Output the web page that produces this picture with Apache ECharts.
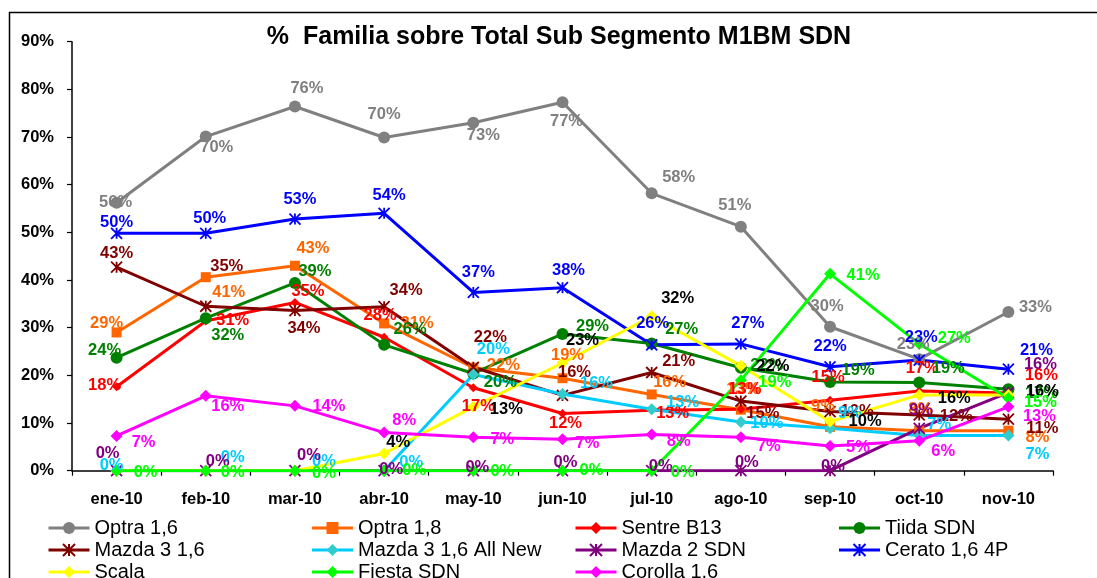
<!DOCTYPE html>
<html><head><meta charset="utf-8">
<script src="https://cdn.jsdelivr.net/npm/echarts@6/dist/echarts.min.js"></script>
<style>html,body{margin:0;padding:0;background:#fff}#c{width:1097px;height:578px}</style>
</head><body><div id="c"></div>
<script>
var categories = ['ene-10','feb-10','mar-10','abr-10','may-10','jun-10','jul-10','ago-10','sep-10','oct-10','nov-10'];
var yTicks = [0,10,20,30,40,50,60,70,80,90];

var optra16   = [56.2, 70.1, 76.4, 69.9, 73.0, 77.3, 58.2, 51.2, 30.2, 23.4, 33.3];
var optra18   = [29.0, 40.6, 43.0, 30.9, 21.6, 19.4, 16.0, 12.8, 9.2, 8.4, 8.4];
var sentre    = [17.6, 31.4, 35.3, 28.0, 17.4, 12.0, 12.7, 12.9, 14.8, 16.7, 16.3];
var tiida     = [23.7, 32.0, 39.4, 26.4, 20.4, 28.7, 26.7, 21.6, 18.6, 18.5, 17.1];
var mazda316  = [42.7, 34.5, 33.6, 34.4, 21.7, 15.8, 20.6, 14.6, 12.4, 11.7, 10.8];
var mazda316n = [0, 0, 0, 0, 20.2, 16.1, 12.9, 10.2, 8.9, 7.4, 7.4];
var mazda2    = [0, 0, 0, 0, 0, 0, 0, 0, 0, 8.9, 16.4];
var cerato    = [49.8, 49.8, 52.8, 54.0, 37.4, 38.4, 26.4, 26.6, 21.8, 23.2, 21.3];
var scala     = [0, 0, 0, 3.6, 13.4, 22.6, 32.4, 22.0, 10.3, 15.9, 15.9];
var fiesta    = [0, 0, 0, 0, 0, 0, 0, 19.0, 41.3, 26.6, 15.2];
var corolla   = [7.3, 15.7, 13.6, 8.0, 7.0, 6.6, 7.6, 7.0, 5.2, 6.3, 13.4];

// label placement (pixel offsets from each point)
var L = {
 optra16: [[-1,0],[11,11],[12,-18],[0,-23],[10,13],[4,19],[27,-16],[-6,-21],[-3,-20],[-6,-15],[27,-5]],
 optra18: [[-10,-9],[23,15],[18,-17],[33,0],[30,-2],[5,-23],[18,-12],[2,-20],[-7,-20],[1,-21],[29,7]],
 sentre: [[-12,-1],[27,-1],[13,-11],[-4,-22],[5,19],[3,10],[21,3],[4,-20],[-2,-23],[3,-23],[33,-18]],
 tiida: [[-12,-7],[22,17],[20,-11],[26,-15],[27,9],[30,-7],[30,-14],[26,-2],[28,-12],[29,-14],[33,4]],
 mazda316: [[0,-14],[21,-40],[9,18],[22,-16],[17,-30],[12,-23],[27,-11],[22,12],[27,0],[37,2],[34,9]],
 mazda316n: [[-5,-5],[27,-13],[29,-9],[27,-8],[20,-25],[34,-11],[31,-7],[26,1],[20,-15],[20,-11],[29,19]],
 mazda2: [[-9,-17],[12,-9],[14,-15],[7,-1],[4,-3],[3,-8],[9,-4],[6,-8],[3,-4],[2,-18],[32,-28]],
 cerato: [[0,-11],[4,-15],[5,-20],[5,-18],[5,-20],[6,-17],[1,-21],[7,-20],[0,-20],[2,-23],[28,-19]],
 scala: [null,null,null,[14,-11],[33,3],[20,-23],[26,-18],[32,1],[35,0],[35,4],[34,-3]],
 fiesta: [[29,2],[27,2],[29,3],[30,0],[29,1],[29,0],[31,2],[34,2],[33,2],[35,-5],[32,4]],
 corolla: [[27,7],[22,11],[34,1],[20,-12],[29,2],[25,4],[27,7],[28,9],[28,2],[24,11],[31,10]]
};

var STAR = 'path://M0,0L10,10M10,0L0,10M5,0L5,10';
var FONT = 'Liberation Sans, Arial, sans-serif';

var defs = [
 {name:'Optra 1,6', d:optra16, k:'optra16', c:'#808080', sym:'circle', size:12},
 {name:'Optra 1,8', d:optra18, k:'optra18', c:'#FF6600', sym:'rect', size:10},
 {name:'Sentre B13', d:sentre, k:'sentre', c:'#FF0000', sym:'diamond', size:9},
 {name:'Tiida SDN', d:tiida, k:'tiida', c:'#008000', sym:'circle', size:12},
 {name:'Mazda 3 1,6', d:mazda316, k:'mazda316', c:'#800000', sym:STAR, size:11, star:true},
 {name:'Mazda 3 1,6 All New', d:mazda316n, k:'mazda316n', c:'#00CCFF', mc:'#33CCCC', sym:'diamond', size:12},
 {name:'Mazda 2 SDN', d:mazda2, k:'mazda2', c:'#800080', sym:STAR, size:11, star:true},
 {name:'Cerato 1,6 4P', d:cerato, k:'cerato', c:'#0000FF', sym:STAR, size:11, star:true},
 {name:'Scala', d:scala, k:'scala', c:'#FFFF00', lc:'#000000', sym:'diamond', size:12},
 {name:'Fiesta SDN', d:fiesta, k:'fiesta', c:'#00FF00', sym:'diamond', size:12},
 {name:'Corolla 1,6', d:corolla, k:'corolla', c:'#FF00FF', sym:'diamond', size:12}
];

var series = defs.map(function(s){
  var data = s.d.map(function(v,i){
    var o = L[s.k][i];
    if (!o) return {value:v, label:{show:false}};
    return {value:v, label:{offset:o}};
  });
  var mc = s.mc || s.c;
  return {
    type:'line', name:s.name, data:data,
    symbol:s.sym, symbolSize:s.size, showAllSymbol:true,
    lineStyle:{color:s.c, width:3},
    itemStyle: s.star ? {color:mc, borderColor:mc, borderWidth:1.8} : {color:mc, borderWidth:0},
    label:{show:true, position:'inside', color:s.lc || s.c, fontFamily:FONT, fontWeight:'bold', fontSize:16.5,
      formatter:function(p){return Math.round(p.value)+'%';}},
    emphasis:{disabled:true}
  };
});

var chart = echarts.init(document.getElementById('c'), null, {renderer:'canvas'});
chart.setOption({
  animation:false,
  backgroundColor:'#ffffff',
  textStyle:{fontFamily:FONT},
  graphic:[
    {type:'rect', left:7, top:10, shape:{width:1300, height:800}, style:{fill:'none', stroke:'#000', lineWidth:1.5}, silent:true, z:-1},
    {type:'text', x:559, y:37, style:{text:'%  Familia sobre Total Sub Segmento M1BM SDN', font:'bold 25px '+FONT, fill:'#000', textAlign:'center', textVerticalAlign:'middle'}, silent:true}
  ],
  grid:{left:72, right:44, top:41.7, bottom:107.3, containLabel:false},
  xAxis:{type:'category', data:categories, boundaryGap:true,
    axisLine:{lineStyle:{color:'#000', width:1.5}},
    axisTick:{show:true, alignWithLabel:false, length:5, lineStyle:{color:'#000', width:1.2}},
    axisLabel:{color:'#000', fontWeight:'bold', fontSize:16.5, fontFamily:FONT, margin:20, interval:0},
    splitLine:{show:false}},
  yAxis:{type:'value', min:yTicks[0], max:yTicks[yTicks.length-1], interval:10,
    axisLine:{show:true, lineStyle:{color:'#000', width:1.5}},
    axisTick:{show:true, length:5, lineStyle:{color:'#000', width:1.2}},
    axisLabel:{color:'#000', fontWeight:'bold', fontSize:16.5, fontFamily:FONT, margin:18, formatter:'{value}%'},
    splitLine:{show:false}},
  legend:{left:47, top:518, width:1085, padding:0, itemGap:2, itemWidth:41, itemHeight:15,
    lineStyle:{width:3},
    textStyle:{fontSize:20, color:'#000', fontFamily:FONT, width:214, lineHeight:17},
    data:defs.map(function(s){return s.name;})},
  series:series
});
</script></body></html>
